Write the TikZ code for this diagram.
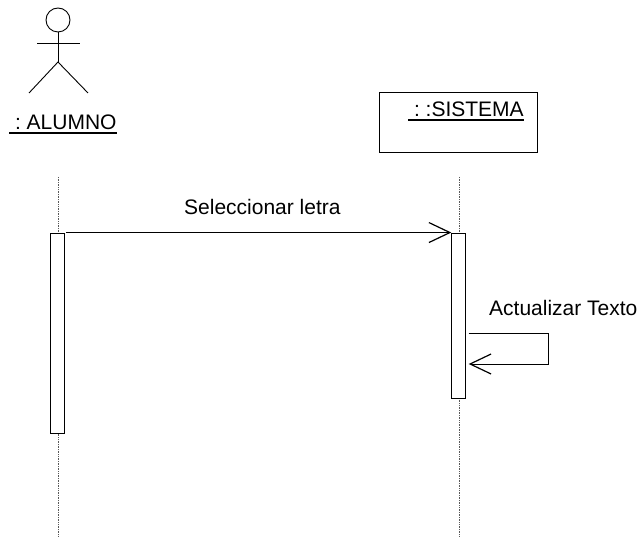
\documentclass[tikz,border=0pt]{standalone}
\usepackage{fontspec}
\setmainfont{Liberation Sans}
\usetikzlibrary{arrows.meta,positioning,calc}
\tikzset{
  actorline/.style={draw, line width=0.9pt},
  objbox/.style={draw, rectangle, line width=0.9pt, minimum width=158pt, minimum height=60pt, inner sep=0pt, fill=white},
  actbar/.style={draw, rectangle, line width=0.9pt, minimum width=14pt, inner sep=0pt, fill=white},
  lifeline/.style={draw=black!65, line width=0.7pt, densely dotted},
  msg/.style={-{Straight Barb[length=21pt,width=20pt,line width=1.2pt]}, line width=0.9pt},
  lbl/.style={font=\fontsize{21}{24}\selectfont\frenchspacing, inner sep=0pt, anchor=base west},
  uline/.style={line width=1.5pt},
}
\begin{document}
\begin{tikzpicture}[x=1pt,y=-1pt]
\useasboundingbox (0,0) rectangle (642,537);
% lifelines
\coordinate (alutop) at (58.5,177);
\coordinate (alubot) at (58.5,537);
\coordinate (sistop) at (459.5,177);
\coordinate (sisbot) at (459.5,537);
\draw[lifeline] (alutop) -- (alubot);
\draw[lifeline] (sistop) -- (sisbot);
% actor
\node[draw, circle, line width=0.9pt, minimum size=24pt, inner sep=0pt] (head) at (58,20) {};
\coordinate (hip) at (58,62);
\coordinate (armL) at (37,43);
\coordinate (armR) at (80,43);
\coordinate (legL) at (29,93);
\coordinate (legR) at (88,93);
\draw[actorline] (head.south) -- (hip);
\draw[actorline] (armL) -- (armR);
\draw[actorline] (legL) -- (hip) -- (legR);
\node[lbl] (alumno) at (9,130) {\ : ALUMNO};
\draw[uline] ([yshift=-3pt]alumno.base west) -- ([yshift=-3pt]alumno.base east);
% object
\node[objbox] (sistema) at (458.75,122.75) {};
\node[lbl] (sisname) at (408,117) {\ : :SISTEMA};
\draw[uline] ([yshift=-3pt]sisname.base west) -- ([yshift=-3pt]sisname.base east);
% activations
\node[actbar, minimum height=200pt] (alubar) at (57,333) {};
\node[actbar, minimum height=165pt] (sisbar) at (458.75,315.5) {};
% messages
\coordinate (selfA) at (548,333);
\coordinate (selfB) at (548,364);
\draw[msg] ([xshift=2pt]alubar.north east) -- (sisbar.north west);
\draw[msg] (sisbar.east |- selfA) ++(2.5,0) -- (selfA) -- (selfB) -- ([xshift=2.5pt]sisbar.east |- selfB);
\node[lbl] (sel) at (184,215) {Seleccionar letra};
\node[lbl] (act) at (489,315) {Actualizar Texto};
\end{tikzpicture}
\end{document}
